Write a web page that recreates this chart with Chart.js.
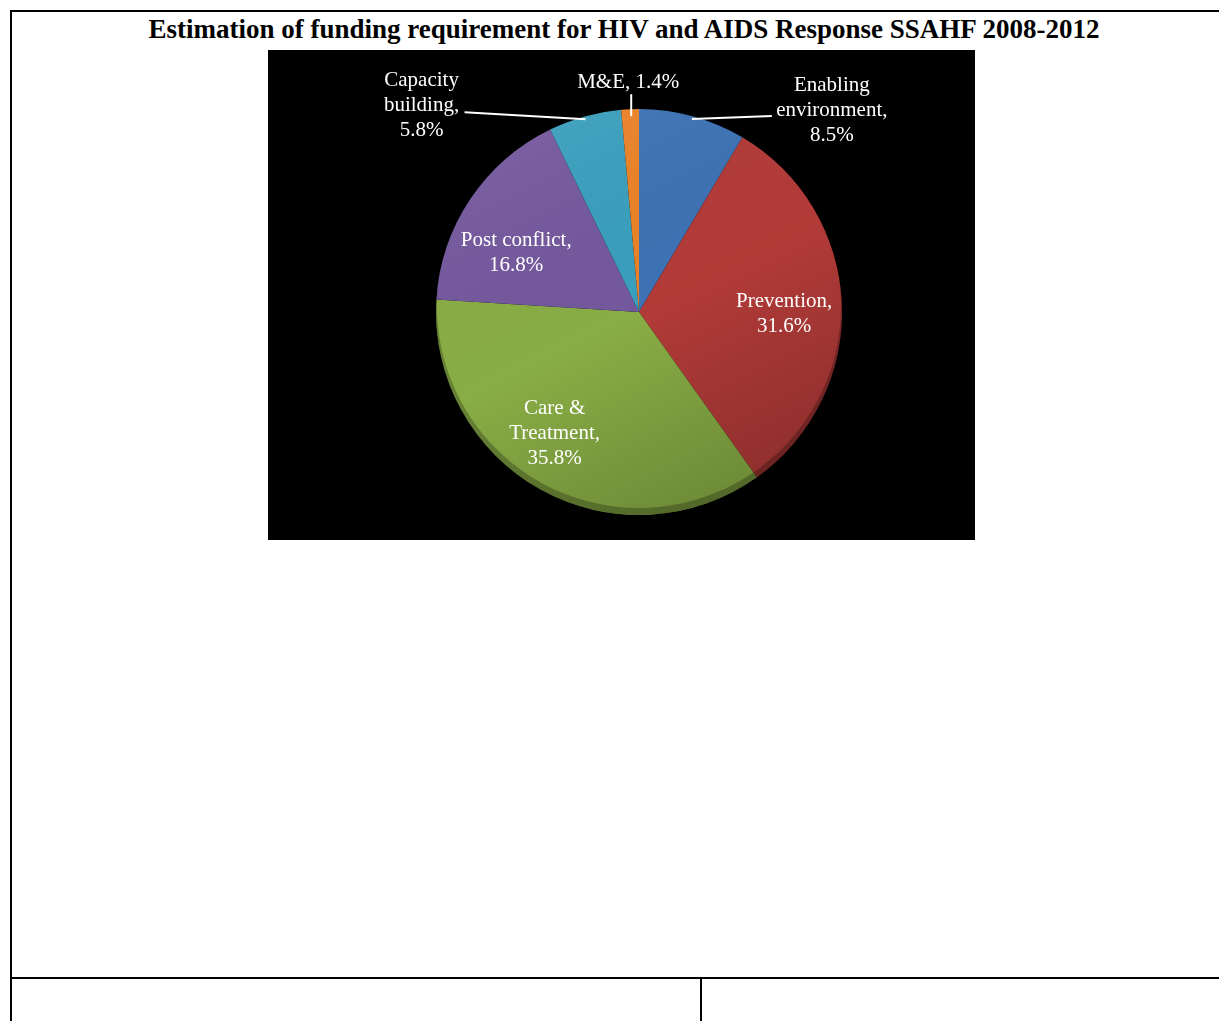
<!DOCTYPE html>
<html>
<head>
<meta charset="utf-8">
<script src="https://cdn.jsdelivr.net/npm/chart.js@4/dist/chart.umd.min.js"></script>
<style>
  html, body { margin: 0; padding: 0; background: #fff; width: 1219px; height: 1021px; overflow: hidden; }
  .line { position: absolute; background: #000; }
  #title { position: absolute; left: 0; width: 1248px; top: 13px; text-align: center;
           font-family: "Liberation Serif", "Times New Roman", serif; font-weight: bold; font-size: 27px; line-height: 32px; color: #000; white-space: nowrap; }
  #box { position: absolute; left: 268px; top: 50px; width: 707px; height: 490px; background: #000; }
</style>
</head>
<body>
<div class="line" style="left:10px; top:10px; width:1209px; height:2px;"></div>
<div class="line" style="left:10px; top:10px; width:2px; height:1011px;"></div>
<div class="line" style="left:10px; top:977px; width:1209px; height:2px;"></div>
<div class="line" style="left:700px; top:978px; width:2px; height:43px;"></div>
<div id="title">Estimation of funding requirement for HIV and AIDS Response SSAHF 2008-2012</div>
<div id="box"><canvas id="c" width="707" height="490"></canvas></div>
<script>
const categories = ["Enabling environment", "Prevention", "Care & Treatment", "Post conflict", "Capacity building", "M&E"];
const values = [8.5, 31.6, 35.8, 16.8, 5.8, 1.4];
const labelLines = [["Enabling", "environment,", "8.5%"], ["Prevention,", "31.6%"], ["Care &", "Treatment,", "35.8%"], ["Post conflict,", "16.8%"], ["Capacity", "building,", "5.8%"], ["M&E, 1.4%"]];
const colors = ["#3d72b4", "#b23b38", "#89ad45", "#74589d", "#3a9fbd", "#ea8227"];

// label layout: inside labels use radial fraction + angle shift; outside labels use offsets from arc edge point
const labelLayout = [
  { outside: true, tx: 140, ty: -9, lx: 80, ly: -3 },
  { outside: false, r: 0.715, a: 3.3 },
  { outside: false, r: 0.73, a: 5.7 },
  { outside: false, r: 0.67, a: -8.3 },
  { outside: true, tx: -164, ty: -14, lx: -121, ly: -7 },
  { outside: true, tx: -2, ty: -34, lx: 1, ly: -22, ls: 1, lsy: 4 }
];

const shadePlugin = {
  id: 'shade',
  afterDatasetsDraw(chart) {
    const arc = chart.getDatasetMeta(0).data[0];
    const { x, y, outerRadius: R } = arc.getProps(['x', 'y', 'outerRadius'], true);
    const ctx = chart.ctx;
    ctx.save();
    ctx.beginPath();
    ctx.arc(x, y, R, 0, Math.PI * 2);
    ctx.clip();
    const g = ctx.createLinearGradient(x - R * 0.5, y - R, x + R * 0.5, y + R);
    g.addColorStop(0, 'rgba(255,255,255,0.06)');
    g.addColorStop(0.5, 'rgba(0,0,0,0)');
    g.addColorStop(1, 'rgba(0,0,0,0.22)');
    ctx.fillStyle = g;
    ctx.fillRect(x - R, y - R, 2 * R, 2 * R);
    // bottom rim
    ctx.beginPath();
    ctx.arc(x, y, R, 0, Math.PI * 2);
    ctx.arc(x, y - 6, R - 1, 0, Math.PI * 2, true);
    ctx.fillStyle = 'rgba(0,0,0,0.25)';
    ctx.fill();
    ctx.restore();
  }
};

const labelPlugin = {
  id: 'sliceLabels',
  afterDraw(chart) {
    const ctx = chart.ctx;
    const meta = chart.getDatasetMeta(0);
    ctx.save();
    ctx.font = '21px "Liberation Serif", "Times New Roman", serif';
    ctx.fillStyle = '#fff';
    ctx.strokeStyle = '#fff';
    ctx.lineWidth = 2;
    ctx.textAlign = 'center';
    ctx.textBaseline = 'middle';
    const lh = 25;
    meta.data.forEach((el, i) => {
      const p = el.getProps(['x', 'y', 'startAngle', 'endAngle', 'outerRadius'], true);
      const lay = labelLayout[i];
      const mid = (p.startAngle + p.endAngle) / 2 + (lay.a || 0) * Math.PI / 180;
      const lines = labelLines[i];
      let cx, cy;
      if (lay.outside) {
        const ex = p.x + Math.cos(mid) * (p.outerRadius - 3);
        const ey = p.y + Math.sin(mid) * (p.outerRadius - 3) + (lay.lsy || 0);
        cx = ex + lay.tx; cy = ey + lay.ty;
        ctx.beginPath();
        ctx.moveTo(ex + (lay.ls || 0), ey);
        ctx.lineTo(ex + lay.lx, ey + lay.ly);
        ctx.stroke();
      } else {
        cx = p.x + Math.cos(mid) * p.outerRadius * lay.r;
        cy = p.y + Math.sin(mid) * p.outerRadius * lay.r;
      }
      const top = cy - (lines.length - 1) * lh / 2;
      lines.forEach((t, k) => ctx.fillText(t, cx, top + k * lh));
    });
    ctx.restore();
  }
};

new Chart(document.getElementById('c'), {
  type: 'pie',
  data: {
    labels: categories,
    datasets: [{ data: values, backgroundColor: colors, borderWidth: 0 }]
  },
  options: {
    responsive: false,
    animation: false,
    layout: { padding: { left: 168, right: 133, top: 59, bottom: 25 } },
    plugins: { legend: { display: false }, tooltip: { enabled: false } }
  },
  plugins: [shadePlugin, labelPlugin]
});
</script>
</body>
</html>
